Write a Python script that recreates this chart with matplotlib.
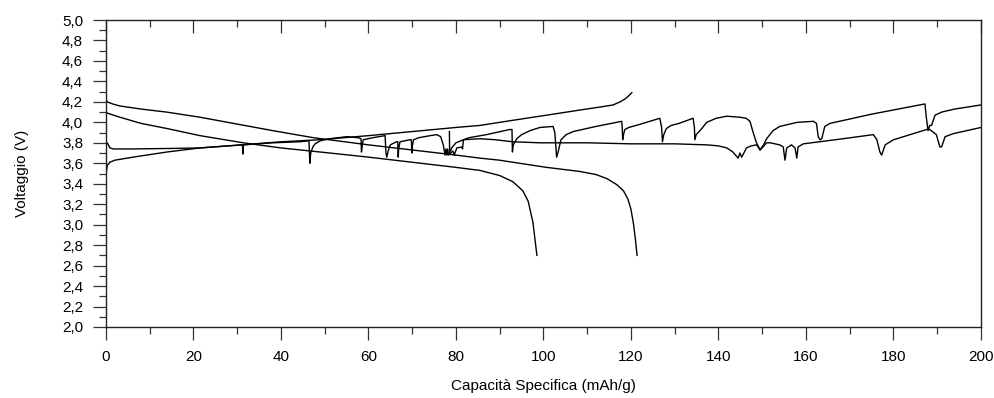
import numpy as np
import matplotlib
matplotlib.use('Agg')
import matplotlib.pyplot as plt
from matplotlib.ticker import MultipleLocator, FuncFormatter

plt.rcParams['font.family'] = ['Liberation Sans', 'DejaVu Sans']
plt.rcParams['font.size'] = 11

# scarica 1 (parte da 4,10 V)
x_scarica1 = [0, 0.3, 3.2, 8, 13.9, 21.5, 31.4, 40, 51.2, 60, 70, 80, 85.5, 90, 93,
              95.3, 96.5, 97.6, 98.5]
v_scarica1 = [4.10, 4.09, 4.05, 3.99, 3.94, 3.87, 3.80, 3.75, 3.70, 3.66, 3.61, 3.56,
              3.53, 3.48, 3.42, 3.33, 3.23, 3.02, 2.70]

# scarica 2 (parte da 4,22 V)
x_scarica2 = [0, 0.3, 1.5, 3.2, 8, 13.9, 21.5, 29.1, 38, 47.4, 60, 70, 80, 85.5, 90,
              93, 100.7, 108.3, 112, 114.5, 116.8, 118.3, 119.3, 120, 120.6, 121, 121.4]
v_scarica2 = [4.23, 4.20, 4.18, 4.16, 4.13, 4.10, 4.05, 3.99, 3.92, 3.85, 3.78, 3.73,
              3.68, 3.65, 3.63, 3.61, 3.56, 3.52, 3.49, 3.45, 3.39, 3.33, 3.25, 3.15,
              3.00, 2.86, 2.70]

# carica continua
x_carica = [0, 0, 0.1, 0.3, 0.9, 2, 6.2, 13.9, 21.5, 31, 40, 48.9, 60, 70, 80, 85.5,
            93, 100.7, 108.3, 113, 115.9, 117.5, 118.7, 119.5, 120.2]
v_carica = [3.12, 3.40, 3.52, 3.58, 3.61, 3.63, 3.66, 3.71, 3.75, 3.78, 3.81, 3.83,
            3.87, 3.91, 3.95, 3.97, 4.02, 4.07, 4.12, 4.15, 4.17, 4.20, 4.23, 4.26, 4.29]

# carica con interruzioni (curva superiore)
x_int1 = [0, 0.3, 0.9, 1.7, 6.2, 15, 21.5, 28, 31.2, 31.3, 31.4, 38, 44.3, 46.4, 46.6,
          46.8, 47.3, 47.8, 49, 51.2, 55, 57.7, 58.3, 58.4, 58.6, 58.8, 61, 63.8, 64.0,
          64.2, 64.5, 65, 66.4, 66.7, 66.8, 66.9, 67.2, 69.5, 69.8, 69.9, 70.0, 70.3,
          71.5, 74.1, 75.6, 76.5, 77.1, 77.5, 77.7, 77.9, 78.1, 78.3, 79.3, 79.6, 80.2,
          81.4, 81.5, 81.7, 83, 87, 92.3, 92.8, 92.9, 93.1, 93.9, 95, 97, 99.2, 102.2,
          102.6, 103.0, 103.4, 104, 105.2, 106.8, 112, 117.9, 118.0, 118.1, 118.3,
          118.6, 119.5, 122, 126.6, 127.0, 127.2, 127.5, 128.1, 129.2, 131, 134.2,
          134.5, 134.6, 134.9, 136.2, 137.3, 139.5, 141.9, 144.9, 146.3, 147.2, 148.0,
          148.7, 149.5, 150.3, 151, 152.5, 154, 158, 161.7, 162.4, 162.8, 163.2, 163.6,
          164.3, 165.5, 175, 187.2, 187.5, 187.9, 188.3, 188.7, 189.5, 191, 194, 200]
v_int1 = [3.79, 3.80, 3.75, 3.74, 3.74, 3.745, 3.75, 3.77, 3.78, 3.69, 3.78, 3.80, 3.81,
          3.82, 3.60, 3.70, 3.76, 3.79, 3.82, 3.84, 3.86, 3.85, 3.84, 3.71, 3.78, 3.83,
          3.85, 3.87, 3.70, 3.66, 3.72, 3.78, 3.81, 3.81, 3.66, 3.74, 3.81, 3.83, 3.83,
          3.70, 3.76, 3.83, 3.85, 3.87, 3.88, 3.86, 3.78, 3.68, 3.74, 3.68, 3.74, 3.68,
          3.72, 3.68, 3.75, 3.76, 3.74, 3.83, 3.85, 3.88, 3.93, 3.93, 3.71, 3.78, 3.84,
          3.88, 3.92, 3.95, 3.96, 3.90, 3.66, 3.72, 3.83, 3.88, 3.91, 3.96, 4.01, 3.95,
          3.83, 3.88, 3.93, 3.95, 3.98, 4.04, 3.95, 3.81, 3.88, 3.94, 3.97, 3.99, 4.04,
          3.95, 3.83, 3.88, 3.94, 4.00, 4.04, 4.06, 4.05, 4.04, 4.01, 3.89, 3.80, 3.73,
          3.78, 3.84, 3.92, 3.96, 4.00, 4.01, 3.99, 3.86, 3.83, 3.84, 3.96, 3.99, 4.08,
          4.18, 4.05, 3.92, 3.97, 3.97, 4.07, 4.10, 4.13, 4.17]

# carica con interruzioni (curva inferiore)
x_int2 = [78.5, 78.55, 79, 80, 81.7, 85.5, 89, 93, 99.2, 110, 120, 130, 137.3, 140,
          141.9, 143.3, 144.1, 144.5, 144.9, 145.3, 145.8, 146.4, 147.5, 148.7, 149.2,
          149.5, 150.2, 151, 151.8, 154, 154.8, 155.2, 155.6, 156.7, 157.5, 157.9, 158.2,
          159.4, 168.5, 175.4, 176.2, 176.9, 177.3, 178.1, 180, 187.6, 188.3, 189.8,
          190.6, 191, 191.8, 193.7, 200]
v_int2 = [3.91, 3.70, 3.75, 3.80, 3.83, 3.84, 3.83, 3.81, 3.80, 3.80, 3.79, 3.79, 3.78,
          3.77, 3.75, 3.71, 3.67, 3.65, 3.70, 3.66, 3.70, 3.75, 3.77, 3.78, 3.75, 3.73,
          3.76, 3.80, 3.80, 3.78, 3.76, 3.63, 3.75, 3.78, 3.75, 3.65, 3.76, 3.79, 3.84,
          3.88, 3.83, 3.71, 3.68, 3.78, 3.83, 3.93, 3.93, 3.88, 3.76, 3.76, 3.86, 3.89,
          3.95]

fig = plt.figure(figsize=(9.94, 3.98), dpi=100)
ax = fig.add_axes([0.1066, 0.1784, 0.8803, 0.7713])

for xs, vs in [(x_scarica1, v_scarica1), (x_scarica2, v_scarica2), (x_carica, v_carica),
               (x_int1, v_int1), (x_int2, v_int2)]:
    ax.plot(xs, vs, color='black', lw=1.0)

ax.set_xlim(0, 200)
ax.set_ylim(2.0, 5.0)
ax.xaxis.set_major_locator(MultipleLocator(20))
ax.xaxis.set_minor_locator(MultipleLocator(10))
ax.yaxis.set_major_locator(MultipleLocator(0.2))
ax.yaxis.set_minor_locator(MultipleLocator(0.1))
ax.yaxis.set_major_formatter(FuncFormatter(lambda v, p: f"{v:.1f}".replace('.', ',')))

ax.tick_params(which='major', direction='out', length=9.4, width=0.9, pad=7, color='#333333')
ax.tick_params(which='minor', direction='out', length=5, width=0.9, color='#333333')
ax.tick_params(top=False, right=False)

# tacche interne sul lato superiore
top = ax.secondary_xaxis('top')
top.xaxis.set_major_locator(MultipleLocator(20))
top.xaxis.set_minor_locator(MultipleLocator(10))
top.tick_params(which='major', direction='in', length=9.4, width=0.9, color='#333333', labeltop=False)
top.tick_params(which='minor', direction='in', length=5, width=0.9, color='#333333')
top.spines['top'].set_visible(False)

for s in ax.spines.values():
    s.set_linewidth(1.0)
    s.set_color('#222222')

ax.set_xlabel('Capacità Specifica (mAh/g)', labelpad=11)
ax.set_ylabel('Voltaggio (V)', labelpad=24)

fig.savefig('out.png', dpi=100)
